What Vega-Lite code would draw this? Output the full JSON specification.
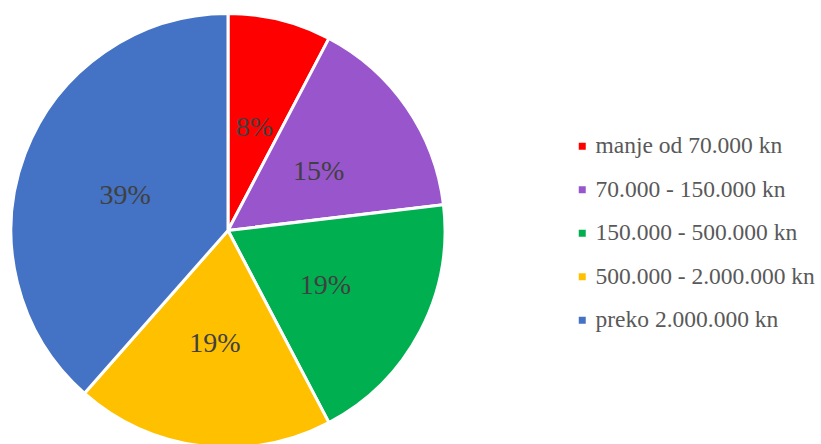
{
  "$schema": "https://vega.github.io/schema/vega-lite/v6.json",
  "width": 456,
  "height": 461,
  "padding": 0,
  "autosize": {"type": "pad"},
  "background": "white",
  "view": {"stroke": null},
  "config": {
    "font": "Liberation Serif"
  },
  "data": {
    "values": [
      {"rank": 1, "category": "manje od 70.000 kn", "share": 0.077},
      {"rank": 2, "category": "70.000 - 150.000 kn", "share": 0.154},
      {"rank": 3, "category": "150.000 - 500.000 kn", "share": 0.192},
      {"rank": 4, "category": "500.000 - 2.000.000 kn", "share": 0.192},
      {"rank": 5, "category": "preko 2.000.000 kn", "share": 0.385}
    ]
  },
  "encoding": {
    "theta": {"field": "share", "type": "quantitative", "stack": true},
    "order": {"field": "rank", "type": "quantitative"}
  },
  "layer": [
    {
      "mark": {"type": "arc", "radius": 217, "stroke": "white", "strokeWidth": 3},
      "encoding": {
        "color": {
          "field": "category",
          "type": "nominal",
          "sort": ["manje od 70.000 kn", "70.000 - 150.000 kn", "150.000 - 500.000 kn", "500.000 - 2.000.000 kn", "preko 2.000.000 kn"],
          "scale": {
            "domain": ["manje od 70.000 kn", "70.000 - 150.000 kn", "150.000 - 500.000 kn", "500.000 - 2.000.000 kn", "preko 2.000.000 kn"],
            "range": ["#FF0000", "#9955CC", "#00B050", "#FFC000", "#4472C4"]
          },
          "legend": {
            "orient": "none",
            "legendX": 570.5,
            "legendY": 134.5,
            "title": null,
            "padding": 0,
            "symbolType": "square",
            "symbolSize": 49,
            "symbolStrokeWidth": 0,
            "labelFont": "Liberation Serif",
            "labelFontSize": 23.5,
            "labelColor": "#595959",
            "labelOffset": 1.5,
            "labelLimit": 400,
            "rowPadding": 18.5
          }
        }
      }
    },
    {
      "mark": {"type": "text", "radius": 110, "dy": 4, "font": "Liberation Serif", "fontSize": 28, "baseline": "middle", "align": "center"},
      "encoding": {
        "text": {"field": "share", "type": "quantitative", "format": ".0%"},
        "color": {"value": "#404040"}
      }
    }
  ]
}
